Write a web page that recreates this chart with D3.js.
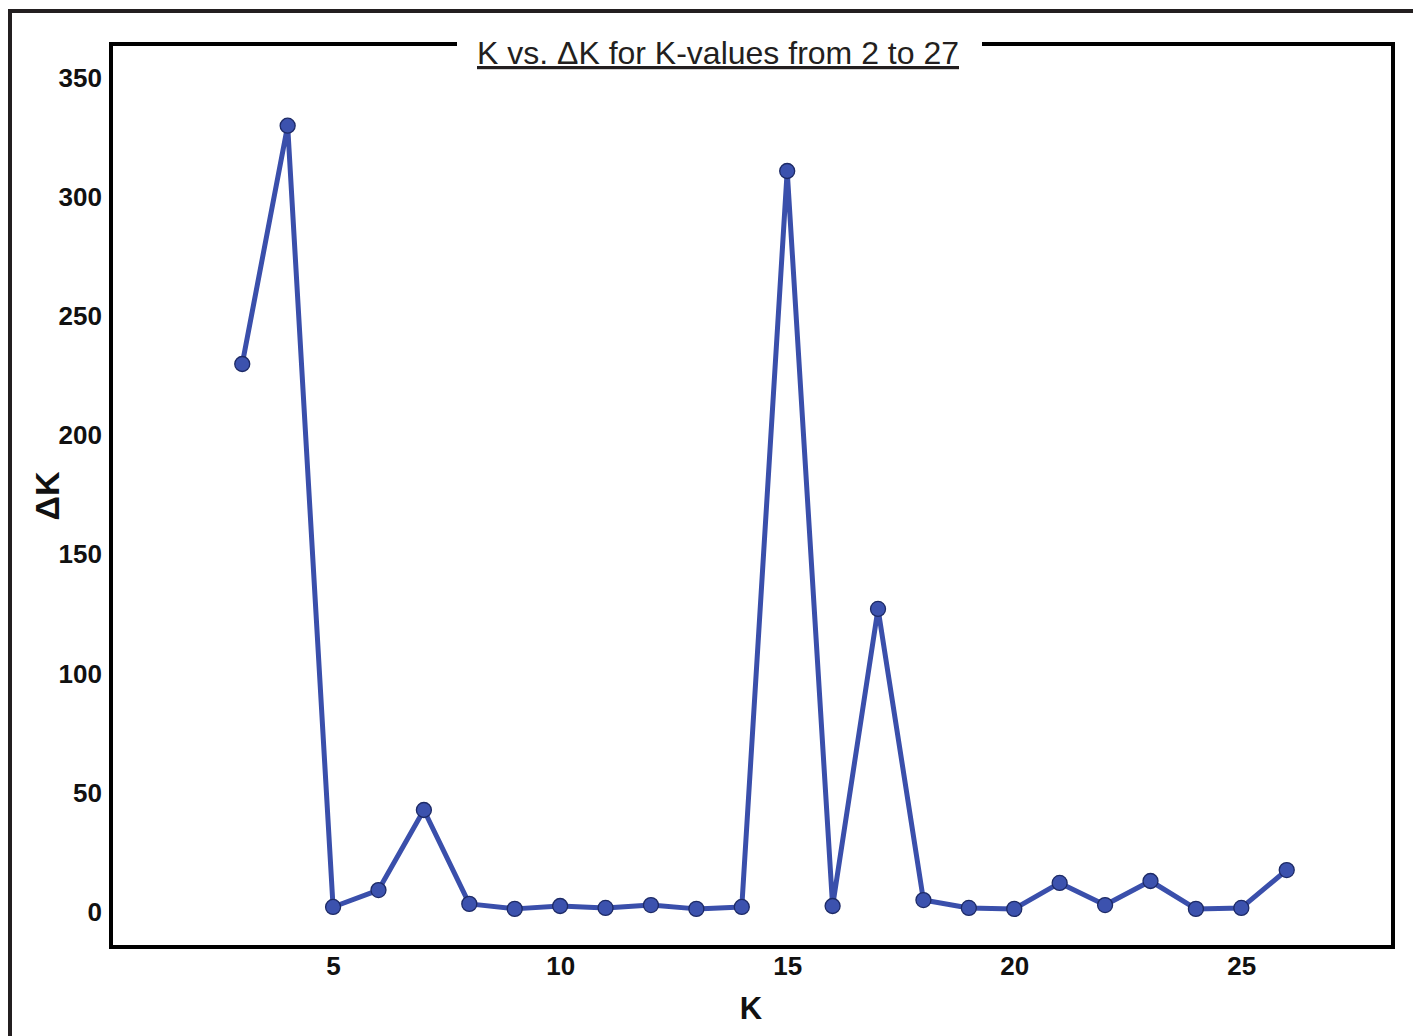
<!DOCTYPE html>
<html><head><meta charset="utf-8">
<script src="https://cdn.jsdelivr.net/npm/d3@7"></script>
<style>body{margin:0;background:#fff}svg{display:block}</style>
</head><body>
<script>
const kValues = [3,4,5,6,7,8,9,10,11,12,13,14,15,16,17,18,19,20,21,22,23,24,25,26];
const deltaK = [230,330,2.1,9.2,42.8,3.4,1.3,2.5,1.7,2.9,1.3,2.1,311,2.5,127.2,5,1.7,1.3,12.2,2.9,13,1.3,1.7,17.6];
const xTicks = [5,10,15,20,25];
const yTicks = [0,50,100,150,200,250,300,350];
const titleText = "K vs. ΔK for K-values from 2 to 27";
const xLabel = "K", yLabel = "ΔK";

const W = 1413, H = 1036;
const svg = d3.select("body").append("svg").attr("width", W).attr("height", H);
const font = "'Liberation Sans', Arial, sans-serif";

// outer border
svg.append("rect").attr("x",10).attr("y",11).attr("width",W+20).attr("height",H+20)
  .attr("fill","none").attr("stroke","#231f20").attr("stroke-width",4);

const L=111, R=1393, T=44, B=947;
const x = d3.scaleLinear().domain([0.11, 28.34]).range([L, R]);
const y = d3.scaleLinear().domain([-14.7, 364.3]).range([B, T]);

svg.append("rect").attr("x",L).attr("y",T).attr("width",R-L).attr("height",B-T)
  .attr("fill","none").attr("stroke","#000").attr("stroke-width",4);

// axes (labels only)
const xAxis = svg.append("g").attr("transform",`translate(0,${B})`)
  .call(d3.axisBottom(x).tickValues(xTicks).tickSize(0).tickPadding(10));
const yAxis = svg.append("g").attr("transform",`translate(${L},0)`)
  .call(d3.axisLeft(y).tickValues(yTicks).tickSize(0).tickPadding(9));
[xAxis,yAxis].forEach(a=>{
  a.select(".domain").remove();
  a.selectAll("text").attr("font-family",font).attr("font-size",26).attr("font-weight","bold").attr("fill","#111");
});

// title with white box
const tg = svg.append("g");
tg.append("rect").attr("x",457).attr("y",30).attr("width",525).attr("height",30).attr("fill","#fff");
tg.append("text").attr("x",718).attr("y",64).attr("text-anchor","middle")
  .attr("font-family",font).attr("font-size",32).attr("fill","#231f20")
  .attr("text-decoration","underline").text(titleText);

svg.append("text").attr("x",751).attr("y",1019).attr("text-anchor","middle")
  .attr("font-family",font).attr("font-size",31).attr("font-weight","bold").attr("fill","#111").text(xLabel);
svg.append("text").attr("transform","translate(59,496) rotate(-90)").attr("text-anchor","middle")
  .attr("font-family",font).attr("font-size",34).attr("font-weight","bold").attr("fill","#111").text(yLabel);

const data = kValues.map((k,i)=>({k, v: deltaK[i]}));
svg.append("path").datum(data)
  .attr("d", d3.line().x(d=>x(d.k)).y(d=>y(d.v)))
  .attr("fill","none").attr("stroke","#3a4fab").attr("stroke-width",5).attr("stroke-linejoin","round");
svg.selectAll("circle.pt").data(data).enter().append("circle").attr("class","pt")
  .attr("cx",d=>x(d.k)).attr("cy",d=>y(d.v)).attr("r",7.5)
  .attr("fill","#3c52ae").attr("stroke","#1d2a66").attr("stroke-width",1.3);
</script>
</body></html>
